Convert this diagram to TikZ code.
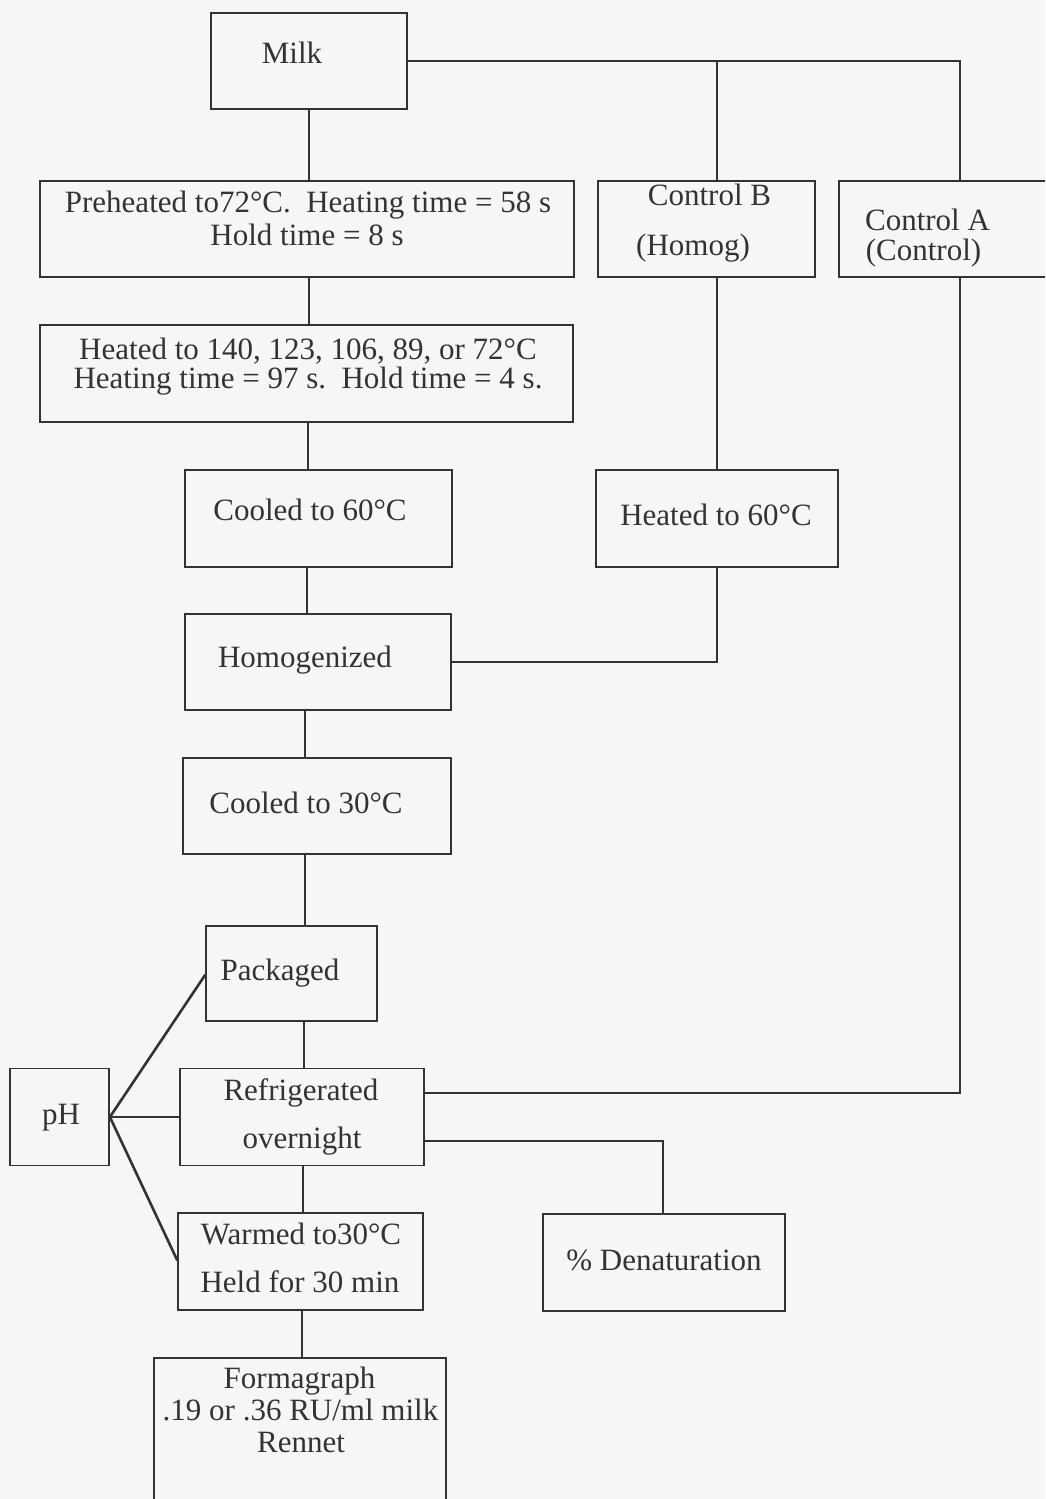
\documentclass[tikz,border=0pt]{standalone}
\usepackage{fontspec}
\setmainfont{Liberation Serif}
\definecolor{ink}{HTML}{333333}
\definecolor{paper}{HTML}{F6F6F6}
\begin{document}
\begin{tikzpicture}[x=1pt,y=-1pt,
  box/.style={draw=ink, line width=1.8pt, inner sep=0pt},
  lbl/.style={text=ink, anchor=base, inner sep=0pt, font=\fontsize{31}{31}\selectfont},
  link/.style={draw=ink, line width=1.6pt},
  plink/.style={draw=ink, line width=2.6pt}]
\clip (0,0) rectangle (1045,1499);
\fill[paper] (0,0) rectangle (1045,1499);
% boxes
\node[box, minimum width=196pt, minimum height=96pt] (milk) at (309,61) {};
\node[box, minimum width=534pt, minimum height=96pt] (pre) at (307,229) {};
\node[box, minimum width=217pt, minimum height=96pt] (ctrlB) at (706.5,229) {};
\node[box, minimum width=221pt, minimum height=96pt] (ctrlA) at (949.5,229) {};
\node[box, minimum width=533pt, minimum height=97pt] (heat) at (306.5,373.5) {};
\node[box, minimum width=267pt, minimum height=97pt] (cool60) at (318.5,518.5) {};
\node[box, minimum width=242pt, minimum height=97pt] (heat60) at (717,518.5) {};
\node[box, minimum width=266pt, minimum height=96pt] (homog) at (318,662) {};
\node[box, minimum width=268pt, minimum height=96pt] (cool30) at (317,806) {};
\node[box, minimum width=171pt, minimum height=95pt] (pack) at (291.5,973.5) {};
\node[box, minimum width=244pt, minimum height=97pt] (refr) at (302,1117) {};
\node[box, minimum width=245pt, minimum height=97pt] (warm) at (300.5,1261.5) {};
\node[box, minimum width=242pt, minimum height=97pt] (denat) at (664,1262.5) {};
\node[box, minimum width=292pt, minimum height=162pt] (form) at (300,1439) {};
\node[box, minimum width=99pt, minimum height=97pt] (ph) at (59.5,1117) {};
% texts
\node[lbl] (tmilk) at (292,63) {Milk};
\node[lbl] (tpre1) at (308,212) {Preheated to72°C.\ \ Heating time = 58 s};
\node[lbl] (tpre2) at (307,245) {Hold time = 8 s};
\node[lbl] (tcb1) at (709.5,205) {Control B};
\node[lbl] (tcb2) at (693,255) {(Homog)};
\node[lbl] (tca1) at (927.5,230) {Control A};
\node[lbl] (tca2) at (923.5,260) {(Control)};
\node[lbl] (theat1) at (308,359) {Heated to 140, 123, 106, 89, or 72°C};
\node[lbl] (theat2) at (308,388) {Heating time = 97 s.\ \ Hold time = 4 s.};
\node[lbl] (tcool60) at (310,520) {Cooled to 60°C};
\node[lbl] (theat60) at (716,525) {Heated to 60°C};
\node[lbl] (thomog) at (305,667) {Homogenized};
\node[lbl] (tcool30) at (306,813) {Cooled to 30°C};
\node[lbl] (tpack) at (280,980) {Packaged};
\node[lbl] (tph) at (61,1124) {pH};
\node[lbl] (trefr1) at (301,1100) {Refrigerated};
\node[lbl] (trefr2) at (302,1148) {overnight};
\node[lbl] (twarm1) at (301,1244) {Warmed to30°C};
\node[lbl] (twarm2) at (300,1292) {Held for 30 min};
\node[lbl] (tdenat) at (664,1270) {\% Denaturation};
\node[lbl] (tform1) at (299.5,1388) {Formagraph};
\node[lbl] (tform2) at (300.5,1420) {.19 or .36 RU/ml milk};
\node[lbl] (tform3) at (301,1452) {Rennet};
% helper coordinates
\coordinate (jB) at (717,61);
\coordinate (jA) at (960,61);
\coordinate (hk) at (717,662);
\coordinate (ak) at (960,1093);
\coordinate (dk) at (663,1141);
% main chain
\draw[link] (309,109) -- (309,181);
\draw[link] ([xshift=2pt]pre.south) -- ([xshift=2pt]pre.south |- heat.north);
\draw[link] (308,422) -- (308,470);
\draw[link] (307,567) -- (307,614);
\draw[link] (305,710) -- (305,758);
\draw[link] (305,854) -- (305,926);
\draw[link] (304,1021) -- (304,1069);
\draw[link] (303,1166) -- (303,1213);
\draw[link] (302,1310) -- (302,1358);
% control branches
\draw[link] (milk.east) -- (jA) -- (jA |- ctrlA.north);
\draw[link] (jB) -- (jB |- ctrlB.north);
\draw[link] (jB |- ctrlB.south) -- (jB |- heat60.north);
\draw[link] (jB |- heat60.south) -- (hk) -- (homog.east |- hk);
\draw[link] (jA |- ctrlA.south) -- (ak) -- (refr.east |- ak);
\draw[link] (refr.east |- dk) -- (dk) -- (dk |- denat.north);
% pH links
\draw[plink, line cap=round] (ph.east) -- (pack.west |- 0,975);
\draw[link] (ph.east) -- (refr.west);
\draw[plink, line cap=round] (ph.east) -- (warm.west |- 0,1260);
\end{tikzpicture}
\end{document}
